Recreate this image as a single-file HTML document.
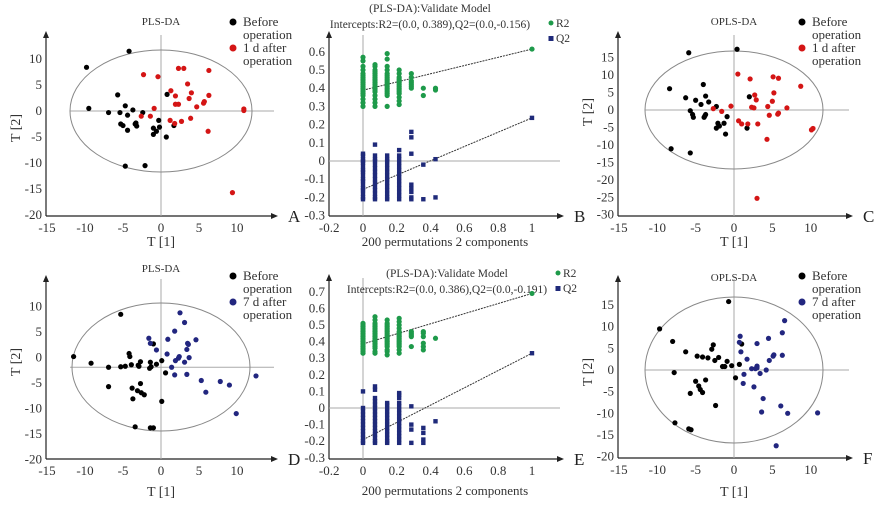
<!DOCTYPE html>
<html><head><meta charset="utf-8"><style>
html,body{margin:0;padding:0;background:#fff;}
svg{display:block;font-family:"Liberation Serif",serif;}
</style></head><body>
<svg id="fig" width="881" height="508" viewBox="0 0 881 508"></svg>
<script>
// ---- scatter data (score plots) ----
const aBeforeX=[-9.8,-4.2,-5.7,-9.5,-6.9,-5.4,-4.7,-3.7,-4.4,-5.3,-5.0,-4.4,-3.3,-3.2,-3.4,-2.4,-0.3,-1.0,-0.6,-1.0,-0.2,0.8,0.7,1.7,-4.7,-2.1];
const aBeforeY=[8.4,11.5,3.1,0.5,-0.3,-0.3,1.0,0.2,-0.8,-2.5,-2.8,-3.7,-2.3,-2.9,-2.5,-0.3,-1.8,-3.3,-3.9,-4.5,-3.1,3.2,-5.0,-2.8,-10.6,-10.5];
const aAfterX=[-2.3,-0.4,2.3,3.0,6.3,1.3,3.5,4.0,1.9,3.7,1.9,2.3,4.7,5.6,5.7,6.3,10.9,10.9,-0.9,-1.4,-2.6,1.2,1.8,2.7,3.9,6.2,9.4];
const aAfterY=[7.0,6.6,8.2,8.2,7.8,3.9,5.2,3.5,2.9,2.4,1.3,1.3,0.8,1.5,1.8,3.0,0.4,0.1,0.5,-1.0,-1.0,-1.8,-2.4,-2.0,-1.4,-3.9,-15.7];
const cBeforeX=[-8.4,-5.9,0.4,-6.3,-5.0,-4.0,-3.7,-4.3,-3.3,-2.3,-5.7,-5.4,-5.3,-3.9,-3.7,-3.8,-0.9,-2.1,-2.3,-1.9,-1.3,-1.1,1.7,2.0,-8.2,-5.7];
const cBeforeY=[6.1,16.4,17.4,3.5,2.8,7.3,4.0,1.6,2.3,1.0,-0.2,-1.3,-2.1,-2.1,-1.3,-1.7,-1.9,-3.8,-5.2,-4.6,-3.8,-6.9,-5.2,3.8,-11.1,-12.3];
const cAfterX=[0.5,2.1,5.1,5.8,8.7,2.7,2.9,5.2,5.0,4.4,2.3,2.6,6.9,4.6,5.7,5.8,-0.4,-1.6,-2.7,0.6,1.0,1.8,3.1,4.3,10.1,10.3,3.0];
const cAfterY=[10.3,8.9,9.5,9.1,6.8,4.3,2.9,4.9,2.5,1.0,0.8,0.6,0.6,-1.5,-1.2,-0.9,1.1,-0.4,0.4,-3.1,-4.0,-4.0,-4.0,-8.4,-5.7,-5.3,-25.3];
const dBeforeX=[-11.5,-9.2,-6.9,-5.3,-5.3,-4.7,-4.2,-4.1,-3.9,-2.9,-2.7,-3.0,-1.4,-1.0,-1.3,-1.5,-0.6,0.1,0.6,-6.9,-3.8,-3.7,-3.1,-2.7,-2.6,-2.2,0.1,-3.4,-1.4,-1.0];
const dBeforeY=[0.2,-1.1,-1.9,8.5,-1.8,-1.7,0.8,0.2,-1.4,-1.7,-0.8,-1.5,-0.9,2.7,-1.8,-2.1,-1.3,-0.6,-3.0,-5.7,-6.0,-8.1,-6.5,-5.1,-6.9,-7.3,-8.6,-13.6,-13.8,-13.8];
const dAfterX=[-1.6,-1.4,-0.6,0.9,0.8,1.8,2.5,3.1,2.4,2.3,1.9,3.1,1.4,3.5,3.6,3.4,3.7,4.6,1.8,3.4,5.3,5.9,7.8,9.0,12.5,9.9];
const dAfterY=[3.8,2.8,1.5,3.6,0.7,5.2,8.8,6.9,0.2,-0.1,-0.6,-0.9,-1.9,2.8,2.6,1.6,0.0,3.5,-3.4,-3.3,-4.5,-6.8,-4.7,-5.4,-3.6,-11.0];
const fBeforeX=[-0.7,-9.7,-8.0,-7.8,-6.3,-4.8,-4.1,-3.4,-2.9,-2.7,-2.5,-2.0,-1.5,-1.2,-0.9,-0.3,0.7,1.0,0.2,-5.0,-4.6,-4.4,-4.1,-3.7,-5.7,-2.4,-7.7,-5.9,-5.6];
const fBeforeY=[15.8,9.5,6.6,-0.6,4.2,3.2,3.0,2.8,4.8,5.8,2.2,2.9,0.8,0.8,2.0,1.0,1.3,6.0,-1.8,-2.6,-3.7,-4.5,-5.2,-2.3,-5.4,-8.2,-12.2,-13.6,-13.8];
const fAfterX=[6.6,6.3,4.5,3.0,0.8,0.7,0.9,1.7,3.0,3.0,2.3,2.8,4.2,3.4,4.6,5.1,5.2,6.3,1.3,1.2,2.6,3.8,3.6,6.1,7.0,10.9,5.5];
const fAfterY=[11.4,8.6,7.3,6.1,7.8,6.4,4.2,2.5,0.9,0.5,0.3,0.3,0.0,-0.8,2.2,3.2,3.5,3.4,-1.0,-3.1,-3.9,-6.6,-9.7,-8.3,-10.0,-9.9,-17.5];
// ---- permutation data ----
const permX=[0,0.071,0.143,0.214,0.286,0.357,0.429,1];
const bR2=[[0.30,0.32,0.34,0.36,0.37,0.38,0.39,0.40,0.41,0.42,0.43,0.44,0.45,0.46,0.47,0.48,0.50,0.52,0.55,0.57],
[0.30,0.32,0.34,0.36,0.38,0.39,0.40,0.41,0.42,0.43,0.44,0.45,0.46,0.47,0.48,0.49,0.50,0.52,0.53],
[0.30,0.36,0.37,0.38,0.39,0.40,0.41,0.42,0.43,0.44,0.45,0.46,0.47,0.48,0.50,0.52,0.56,0.59],
[0.31,0.33,0.35,0.37,0.38,0.39,0.40,0.41,0.42,0.43,0.44,0.45,0.46,0.48,0.50],
[0.40,0.41,0.42,0.43,0.44,0.46,0.48],[0.36,0.40],[0.39,0.40],[0.615]];
const bQ2=[[-0.21,-0.20,-0.18,-0.16,-0.15,-0.13,-0.11,-0.10,-0.08,-0.06,-0.05,-0.03,-0.01,0.0,0.01,0.03,0.04],
[-0.21,-0.20,-0.18,-0.16,-0.14,-0.12,-0.10,-0.08,-0.06,-0.04,-0.02,0.0,0.01,0.03,0.09],
[-0.21,-0.20,-0.18,-0.16,-0.14,-0.12,-0.10,-0.08,-0.06,-0.04,-0.02,0.0,0.01,0.03],
[-0.21,-0.19,-0.17,-0.15,-0.13,-0.11,-0.09,-0.07,-0.05,-0.03,-0.01,0.01,0.03,0.06],
[0.16,0.13,0.04,-0.13,-0.15,-0.17,-0.20,-0.21],[-0.02,-0.21],[0.01,-0.20],[0.237]];
const eR2=[[0.33,0.34,0.35,0.36,0.37,0.38,0.39,0.40,0.41,0.42,0.43,0.44,0.45,0.46,0.47,0.48,0.49,0.50,0.51],
[0.33,0.34,0.36,0.37,0.38,0.39,0.40,0.41,0.42,0.43,0.44,0.45,0.46,0.47,0.48,0.49,0.50,0.51,0.53,0.55],
[0.32,0.34,0.35,0.37,0.38,0.39,0.40,0.41,0.42,0.43,0.44,0.45,0.46,0.47,0.48,0.49,0.50,0.51,0.53],
[0.33,0.35,0.37,0.38,0.39,0.40,0.41,0.42,0.43,0.44,0.45,0.46,0.48,0.50,0.52,0.54],
[0.37,0.43,0.44,0.45,0.46],[0.35,0.37,0.39,0.43,0.45,0.46],[0.42],[0.69]];
const eQ2=[[-0.21,-0.20,-0.18,-0.16,-0.14,-0.12,-0.10,-0.08,-0.06,-0.04,-0.02,0.0,0.10],
[-0.21,-0.20,-0.18,-0.16,-0.14,-0.12,-0.10,-0.08,-0.06,-0.04,-0.02,0.0,0.02,0.04,0.06,0.11,0.13],
[-0.21,-0.20,-0.18,-0.16,-0.14,-0.12,-0.10,-0.08,-0.06,-0.04,-0.02,0.0,0.02,0.03],
[-0.21,-0.19,-0.17,-0.15,-0.13,-0.11,-0.09,-0.07,-0.05,-0.03,-0.01,0.01,0.03,0.06,0.08,0.09],
[0.01,-0.10,-0.13,-0.21],[-0.12,-0.15,-0.19,-0.21],[-0.08],[0.33]];
const bIntercepts=[0.389,-0.156];
const eIntercepts=[0.386,-0.191];
const ticksScoreX=[-15,-10,-5,0,5,10];
const ticksA_Y=[10,5,0,-5,-10,-15,-20];
const ticksC_Y=[15,10,5,0,-5,-10,-15,-20,-25,-30];
const ticksD_Y=[10,5,0,-5,-10,-15,-20];
const ticksF_Y=[15,10,5,0,-5,-10,-15,-20];
const ticksPermX=[-0.2,0,0.2,0.4,0.6,0.8,1];
const ticksB_Y=[0.6,0.5,0.4,0.3,0.2,0.1,0,-0.1,-0.2,-0.3];
const ticksE_Y=[0.7,0.6,0.5,0.4,0.3,0.2,0.1,0,-0.1,-0.2,-0.3];

const NS='http://www.w3.org/2000/svg';
const svg=document.getElementById('fig');
function mk(tag,attrs,parent,text){const e=document.createElementNS(NS,tag);for(const k in attrs)e.setAttribute(k,attrs[k]);if(text!==undefined)e.textContent=text;(parent||svg).appendChild(e);return e;}
function fmt(v){return (Math.round(v*10)/10).toString();}

function axes(g,p){
  // y axis + arrow
  const l1=mk('line',{x1:p.ax,y1:p.ab,x2:p.ax,y2:p.at+6,stroke:'#222','stroke-width':1.2},g);
  
  
  mk('path',{d:`M${p.ax-3},${p.at+7} L${p.ax},${p.at} L${p.ax+3},${p.at+7}Z`,fill:'#222'},g);
  const l2=mk('line',{x1:p.ax,y1:p.ab,x2:p.ar-6,y2:p.ab,stroke:'#222','stroke-width':1.2},g);
  
  
  mk('path',{d:`M${p.ar-7},${p.ab-3} L${p.ar},${p.ab} L${p.ar-7},${p.ab+3}Z`,fill:'#222'},g);
  const pl=mk('text',{x:p.ar+10,y:p.ab+6,'font-size':17,fill:'#222'},g,p.letter);
  
  
  p.xt.forEach(v=>{const t=mk('text',{x:p.X(v),y:p.ab+16,'font-size':13,'text-anchor':'middle',fill:'#333'},g,fmt(v));
    
    });
  p.yt.forEach(v=>{const t=mk('text',{x:p.ax-4,y:p.Y(v)+4,'font-size':13,'text-anchor':'end',fill:'#333'},g,fmt(v));
    
    });
}

function scorePanel(p){
  const g=mk('g',{});
  
  
  p.X=v=>p.x0+v*p.sx; p.Y=v=>p.y0-v*p.sy;
  axes(g,p);
  mk('line',{x1:p.X(0),y1:p.at+4,x2:p.X(0),y2:p.ab,stroke:'#aaa','stroke-width':1},g);
  mk('line',{x1:p.hl0,y1:p.Y(p.hy),x2:p.ar-4,y2:p.Y(p.hy),stroke:'#aaa','stroke-width':1},g);
  const el=mk('ellipse',{cx:p.X(0),cy:p.ecy,rx:p.erx,ry:p.ery,fill:'none',stroke:'#888','stroke-width':1},g);
  
  
  const tt=mk('text',{x:p.X(0),y:p.ty,'font-size':11,'text-anchor':'middle',fill:'#333'},g,p.title);
  
  
  const xl=mk('text',{x:p.X(0),y:p.xly,'font-size':14,'text-anchor':'middle',fill:'#333'},g,'T [1]');
  
  
  const yl=mk('text',{x:0,y:0,'font-size':14,'text-anchor':'middle',fill:'#333',transform:`translate(${p.ylx},${p.yly}) rotate(-90)`},g,'T [2]');
  
  
  // legend
  const lx=p.lx, ly=p.ly;
  const d1=mk('circle',{cx:lx,cy:ly-4,r:3.5,fill:'#000'},g);
  
  
  mk('text',{x:lx+10,y:ly,'font-size':13,fill:'#333'},g,'Before');
  mk('text',{x:lx+10,y:ly+13,'font-size':13,fill:'#333'},g,'operation');
  const d2=mk('circle',{cx:lx,cy:ly+22,r:3.5,fill:p.col},g);
  
  
  mk('text',{x:lx+10,y:ly+26,'font-size':13,fill:'#333'},g,p.afterLabel);
  mk('text',{x:lx+10,y:ly+39,'font-size':13,fill:'#333'},g,'operation');
  p.bx.forEach((v,i)=>{const c=mk('circle',{cx:p.X(v),cy:p.Y(p.by[i]),r:2.6,fill:'#000'},g);
    
    });
  p.rx.forEach((v,i)=>{const c=mk('circle',{cx:p.X(v),cy:p.Y(p.ry[i]),r:2.6,fill:p.col},g);
    
    });
}

function permPanel(p){
  const g=mk('g',{});
  
  
  p.X=v=>p.x0+v*p.sx; p.Y=v=>p.y0-v*p.sy;
  axes(g,p);
  mk('line',{x1:p.X(0),y1:p.at+4,x2:p.X(0),y2:p.ab,stroke:'#aaa','stroke-width':1},g);
  mk('line',{x1:p.ax,y1:p.Y(0),x2:p.ar-4,y2:p.Y(0),stroke:'#aaa','stroke-width':1},g);
  const t1=mk('text',{x:p.tx,y:p.ty,'font-size':11.5,'text-anchor':'middle',fill:'#333'},g,'(PLS-DA):Validate Model');
  
  
  const t2=mk('text',{x:p.tx,y:p.ty+16,'font-size':11.5,'text-anchor':'middle',fill:'#333'},g,p.inter);
  
  
  const xl=mk('text',{x:445,y:p.xly,'font-size':13,'text-anchor':'middle',fill:'#333'},g,'200 permutations 2 components');
  
  
  const lg1=mk('circle',{cx:p.lx,cy:p.ly-4,r:2.5,fill:'#1e9a4a'},g);
  
  
  mk('text',{x:p.lx+5,y:p.ly,'font-size':11.5,fill:'#333'},g,'R2');
  const lg2=mk('rect',{x:p.lx-2.5,y:p.ly+9,width:5,height:5,fill:'#1f2a7a'},g);
  
  
  mk('text',{x:p.lx+5,y:p.ly+15,'font-size':11.5,fill:'#333'},g,'Q2');
  const last=permX.length-1;
  const r1=mk('line',{x1:p.X(0),y1:p.Y(p.ic[0]),x2:p.X(1),y2:p.Y(p.r2[last][0]),stroke:'#333','stroke-width':1,'stroke-dasharray':'2,1'},g);
  
  
  const r2=mk('line',{x1:p.X(0),y1:p.Y(p.ic[1]),x2:p.X(1),y2:p.Y(p.q2[last][0]),stroke:'#333','stroke-width':1,'stroke-dasharray':'2,1'},g);
  
  
  p.r2.forEach((col,i)=>col.forEach(v=>{const c=mk('circle',{cx:p.X(permX[i]),cy:p.Y(v),r:2.6,fill:'#1e9a4a'},g);
    
    }));
  p.q2.forEach((col,i)=>col.forEach(v=>{const c=mk('rect',{x:p.X(permX[i])-2.2,y:p.Y(v)-2.2,width:4.4,height:4.4,fill:'#1f2a7a'},g);
    
    }));
}

scorePanel({name:'panel-a-pls-da',letter:'A',x0:161,sx:7.6,y0:111,sy:5.2,ax:46,ab:216,at:31,ar:278,hy:0,hl0:70,
  ecy:111,erx:91,ery:61,ty:25,xly:246,ylx:20,yly:128,lx:233,ly:26,col:'#d41515',afterLabel:'1 d after',
  xt:ticksScoreX,yt:ticksA_Y,bx:aBeforeX,by:aBeforeY,rx:aAfterX,ry:aAfterY,title:'PLS-DA'});
scorePanel({name:'panel-c-opls-da',letter:'C',x0:734,sx:7.67,y0:110,sy:3.49,ax:618,ab:216,at:31,ar:853,hy:0,hl0:645,
  ecy:110,erx:89,ery:59,ty:25,xly:246,ylx:592,yly:112,lx:802,ly:26,col:'#d41515',afterLabel:'1 d after',
  xt:ticksScoreX,yt:ticksC_Y,bx:cBeforeX,by:cBeforeY,rx:cAfterX,ry:cAfterY,title:'OPLS-DA'});
scorePanel({name:'panel-d-pls-da',letter:'D',x0:161,sx:7.6,y0:357.6,sy:5.09,ax:46,ab:459,at:275,ar:278,hy:-1.9,hl0:70,
  ecy:367,erx:89,ery:64,ty:272,xly:496,ylx:20,yly:362,lx:233,ly:280,col:'#22267f',afterLabel:'7 d after',
  xt:ticksScoreX,yt:ticksD_Y,bx:dBeforeX,by:dBeforeY,rx:dAfterX,ry:dAfterY,title:'PLS-DA'});
scorePanel({name:'panel-f-opls-da',letter:'F',x0:734,sx:7.67,y0:370,sy:4.33,ax:618,ab:458,at:275,ar:853,hy:0,hl0:645,
  ecy:370,erx:89,ery:73,ty:281,xly:496,ylx:592,yly:372,lx:802,ly:280,col:'#22267f',afterLabel:'7 d after',
  xt:ticksScoreX,yt:ticksF_Y,bx:fBeforeX,by:fBeforeY,rx:fAfterX,ry:fAfterY,title:'OPLS-DA'});
permPanel({name:'panel-b-permutation',letter:'B',x0:363,sx:169,y0:161,sy:182,ax:329,ab:216,at:31,ar:564,
  tx:430,ty:12,xly:246,lx:551,ly:27,ic:bIntercepts,r2:bR2,q2:bQ2,
  inter:'Intercepts:R2=(0.0, 0.389),Q2=(0.0,-0.156)',xt:ticksPermX,yt:ticksB_Y});
permPanel({name:'panel-e-permutation',letter:'E',x0:363,sx:169,y0:408,sy:166,ax:329,ab:459,at:274,ar:564,
  tx:447,ty:277,xly:495,lx:558,ly:277,ic:eIntercepts,r2:eR2,q2:eQ2,
  inter:'Intercepts:R2=(0.0, 0.386),Q2=(0.0,-0.191)',xt:ticksPermX,yt:ticksE_Y});
</script>
</body></html>
